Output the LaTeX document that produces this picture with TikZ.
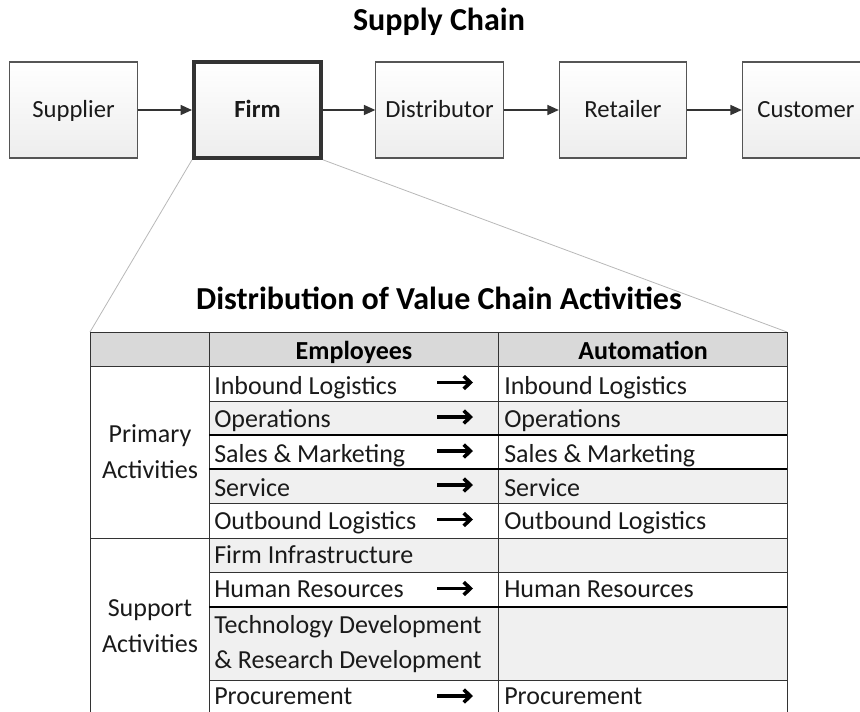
\documentclass[tikz,border=0pt]{standalone}
\usepackage{fontspec}
\setmainfont{Carlito}
\usetikzlibrary{arrows.meta}
\definecolor{boxline}{HTML}{555555}
\definecolor{gridline}{HTML}{333333}
\definecolor{headfill}{HTML}{D9D9D9}
\definecolor{rowfill}{HTML}{F0F0F0}
\definecolor{inktext}{HTML}{1A1A1A}
\definecolor{fanline}{HTML}{B8B8B8}
\tikzset{
  chainbox/.style={draw=boxline, line width=0.8pt, top color=white, bottom color=gray!14,
    minimum width=95.5pt, minimum height=72pt, inner sep=0pt,
    text height=13pt, text depth=1.75pt,
    font=\fontsize{18.5}{22}\selectfont, text=inktext},
  firmbox/.style={chainbox, draw=gridline, line width=2.8pt, font=\fontsize{18.5}{22}\selectfont\bfseries},
  flow/.style={-{Triangle[length=8.5pt,width=7.5pt]}, draw=gridline, line width=0.9pt},
  fan/.style={draw=fanline, line width=0.6pt},
  heading/.style={anchor=base, inner sep=0pt, font=\fontsize{24}{28}\selectfont\bfseries, text=black},
  cell/.style={anchor=base west, inner sep=0pt, font=\fontsize{19.5}{26}\selectfont, text=inktext},
  headcell/.style={anchor=base, inner sep=0pt, font=\fontsize{19.5}{23}\selectfont\bfseries, text=black},
  groupcell/.style={anchor=base, inner sep=0pt, align=center, font=\fontsize{19.5}{26.5}\selectfont, text=inktext},
  shiftarrow/.style={draw=black, line width=2.7pt, -{Straight Barb[length=5pt,width=9.5pt]}},
  gridrule/.style={draw=gridline, line width=0.75pt},
  heavyrule/.style={draw=black, line width=1.4pt}
}
\begin{document}
\begin{tikzpicture}[x=0.75pt, y=-0.75pt]
\useasboundingbox (0,0) rectangle (860,711);
\clip (0,0) rectangle (860,711);

% supply chain row
\node[heading] (sctitle) at (439,30) {Supply Chain};
\node[chainbox] (supplier) at (73.5,110) {Supplier};
\node[firmbox] (firm) at (257.5,110) {Firm};
\node[chainbox] (distributor) at (439.5,110) {Distributor};
\node[chainbox] (retailer) at (623,110) {Retailer};
\node[chainbox] (customer) at (806,110) {Customer};
\draw[flow] (supplier) -- (firm);
\draw[flow] (firm) -- (distributor);
\draw[flow] (distributor) -- (retailer);
\draw[flow] (retailer) -- (customer);

% zoom lines from the firm to the table
\coordinate (tabtl) at (90,332);
\coordinate (tabtr) at (787,332);
\draw[fan] (firm.south west) -- (tabtl);
\draw[fan] (firm.south east) -- (tabtr);

\node[heading] (vctitle) at (439,309) {Distribution of Value Chain Activities};

% table shading
\fill[headfill] (90,332) rectangle (787,366);
\fill[rowfill] (209,401) rectangle (787,435);
\fill[rowfill] (209,469) rectangle (787,503);
\fill[rowfill] (209,538) rectangle (787,572);
\fill[rowfill] (209,607) rectangle (787,680);

% table grid
\draw[gridrule] (90,332) rectangle (787,730);
\draw[gridrule] (209,332) -- (209,730);
\draw[gridrule] (498,332) -- (498,730);
\draw[gridrule] (90,366) -- (787,366);
\draw[gridrule] (209,401) -- (787,401);
\draw[heavyrule] (209,435) -- (787,435);
\draw[heavyrule] (209,469) -- (787,469);
\draw[gridrule] (209,503) -- (787,503);
\draw[gridrule] (90,538) -- (787,538);
\draw[gridrule] (209,572) -- (787,572);
\draw[heavyrule] (209,607) -- (787,607);
\draw[gridrule] (209,680) -- (787,680);

% header
\node[headcell] (hemp) at (354,359) {Employees};
\node[headcell] (haut) at (643,359) {Automation};

% group labels (base anchor sits on the last line)
\node[groupcell] (gprim) at (150,478) {Primary\\Activities};
\node[groupcell] (gsupp) at (150,652) {Support\\Activities};

% employee column
\node[cell] (e1) at (214,394) {Inbound Logistics};
\node[cell] (e2) at (214,427) {Operations};
\node[cell] (e3) at (214,462) {Sales \& Marketing};
\node[cell] (e4) at (214,496) {Service};
\node[cell] (e5) at (214,529) {Outbound Logistics};
\node[cell] (e6) at (214,563) {Firm Infrastructure};
\node[cell] (e7) at (214,597.5) {Human Resources};
\node[cell, align=left] (e8) at (214,668) {Technology Development\\\& Research Development};
\node[cell] (e9) at (214,704.5) {Procurement};

% automation column
\node[cell] (a1) at (504,394) {Inbound Logistics};
\node[cell] (a2) at (504,427) {Operations};
\node[cell] (a3) at (504,462) {Sales \& Marketing};
\node[cell] (a4) at (504,496) {Service};
\node[cell] (a5) at (504,529) {Outbound Logistics};
\node[cell] (a7) at (504,597.5) {Human Resources};
\node[cell] (a9) at (504,704.5) {Procurement};

% bold shift arrows between the two columns
\draw[shiftarrow] (437,382.5) -- (473,382.5);
\draw[shiftarrow] (437,417) -- (473,417);
\draw[shiftarrow] (437,451) -- (473,451);
\draw[shiftarrow] (437,485) -- (473,485);
\draw[shiftarrow] (437,519.5) -- (473,519.5);
\draw[shiftarrow] (437,588.5) -- (473,588.5);
\draw[shiftarrow] (437,696) -- (473,696);
\end{tikzpicture}
\end{document}
